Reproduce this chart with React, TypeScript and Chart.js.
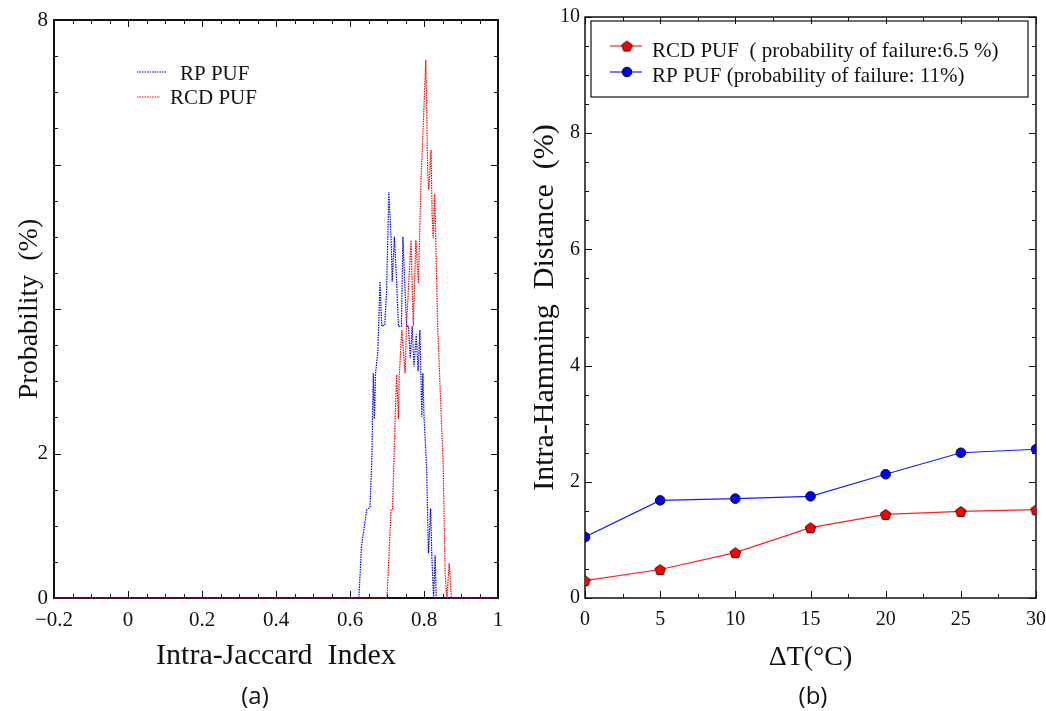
import React, { useEffect, useRef } from 'react';
import { Chart, registerables } from 'chart.js';
Chart.register(...registerables);

// ---------- Panel (a): Intra-Jaccard index distribution ----------
const rpJaccard = [-0.2, 0.624, 0.631, 0.645, 0.654, 0.659, 0.663, 0.666, 0.669, 0.675, 0.678, 0.681, 0.686, 0.694, 0.699, 0.705, 0.711, 0.714, 0.72, 0.726, 0.731, 0.739, 0.743, 0.753, 0.758, 0.763, 0.768, 0.773, 0.779, 0.784, 0.789, 0.794, 0.797, 0.8, 0.807, 0.812, 0.818, 0.821, 0.826, 0.83, 0.833, 1.0];
const rpProb = [0, 0, 0.71, 1.22, 1.26, 1.91, 3.11, 2.48, 3.11, 3.39, 3.85, 4.38, 3.76, 3.78, 4.26, 5.62, 5.0, 4.38, 5.0, 4.38, 3.76, 3.76, 5.0, 3.76, 3.76, 3.32, 3.76, 3.2, 3.65, 3.14, 3.71, 2.51, 3.11, 2.51, 1.81, 0.62, 1.24, 0.59, 0, 0.59, 0, 0];
const rcdJaccard = [-0.2, 0.7, 0.711, 0.715, 0.722, 0.726, 0.731, 0.733, 0.74, 0.749, 0.753, 0.765, 0.771, 0.778, 0.785, 0.792, 0.805, 0.81, 0.813, 0.819, 0.822, 0.825, 0.829, 0.837, 0.852, 0.857, 0.862, 0.868, 0.874, 1.0];
const rcdProb = [0, 0, 1.22, 1.23, 2.47, 3.09, 2.48, 3.06, 3.71, 3.11, 3.81, 4.95, 3.76, 4.95, 4.36, 5.79, 7.45, 5.88, 5.65, 6.2, 5.3, 4.98, 5.6, 3.76, 1.81, 0.35, 0, 0.48, 0, 0];
const probTickLabels = ['0', '2', '8'];

// ---------- Panel (b): Intra-Hamming distance vs temperature ----------
const deltaT = [0, 5, 10, 15, 20, 25, 30];
const rcdHamming = [0.3, 0.49, 0.78, 1.21, 1.44, 1.49, 1.52];
const rpHamming = [1.05, 1.68, 1.71, 1.75, 2.13, 2.5, 2.56];

const SERIF = '"Liberation Serif", "Times New Roman", serif';

const framePlugin = {
  id: 'frameTicks',
  beforeDatasetsDraw(chart: any, _args: any, opts: any) {
    const { ctx, chartArea: a } = chart;
    const x = chart.scales.x;
    const y = chart.scales.y;
    ctx.save();
    ctx.strokeStyle = '#111';
    ctx.lineWidth = 1;
    const nx = Math.round((x.max - x.min) / opts.xMinor);
    for (let i = 0; i <= nx; i++) {
      const v = x.min + i * opts.xMinor;
      const r = v / opts.xMajor;
      const major = Math.abs(r - Math.round(r)) < 1e-6;
      const len = major ? 7 : 4;
      const px = Math.round(x.getPixelForValue(v)) + 0.5;
      ctx.beginPath();
      ctx.moveTo(px, a.bottom);
      ctx.lineTo(px, a.bottom - len);
      ctx.moveTo(px, a.top);
      ctx.lineTo(px, a.top + len);
      ctx.stroke();
    }
    const ny = Math.round((y.max - y.min) / opts.yMinor);
    for (let i = 0; i <= ny; i++) {
      const v = y.min + i * opts.yMinor;
      const r = v / opts.yMajor;
      const major = Math.abs(r - Math.round(r)) < 1e-6;
      const len = major ? 7 : 4;
      const py = Math.round(y.getPixelForValue(v)) + 0.5;
      ctx.beginPath();
      ctx.moveTo(a.left, py);
      ctx.lineTo(a.left + len, py);
      ctx.moveTo(a.right, py);
      ctx.lineTo(a.right - len, py);
      ctx.stroke();
    }
    ctx.lineWidth = opts.frameWidth;
    ctx.strokeRect(a.left, a.top, a.right - a.left, a.bottom - a.top);
    ctx.restore();
  },
};

function makePentagon(size: number, fill: string, stroke: string) {
  const c = document.createElement('canvas');
  c.width = size;
  c.height = size;
  const g = c.getContext('2d')!;
  const r = size / 2 - 1;
  const cx = size / 2;
  const cy = size / 2 + 0.6;
  g.beginPath();
  for (let i = 0; i < 5; i++) {
    const ang = -Math.PI / 2 + (i * 2 * Math.PI) / 5;
    const px = cx + r * Math.cos(ang);
    const py = cy + r * Math.sin(ang);
    if (i === 0) g.moveTo(px, py);
    else g.lineTo(px, py);
  }
  g.closePath();
  g.fillStyle = fill;
  g.fill();
  g.strokeStyle = stroke;
  g.lineWidth = 1;
  g.stroke();
  return c;
}

const noSidePad = (s: any) => {
  s.paddingLeft = 0;
  s.paddingRight = 0;
};

export default function App() {
  const leftRef = useRef<HTMLCanvasElement>(null);
  const rightRef = useRef<HTMLCanvasElement>(null);

  useEffect(() => {
    const pentagon = makePentagon(13, '#ff0000', '#3a0000');

    const leftLegend = {
      id: 'leftLegend',
      afterDraw(chart: any) {
        const ctx = chart.ctx;
        ctx.save();
        ctx.lineWidth = 1.2;
        ctx.setLineDash([1.5, 1]);
        ctx.strokeStyle = '#0000ff';
        ctx.beginPath();
        ctx.moveTo(137, 72);
        ctx.lineTo(167, 72);
        ctx.stroke();
        ctx.strokeStyle = '#ff0000';
        ctx.beginPath();
        ctx.moveTo(137, 97);
        ctx.lineTo(160, 97);
        ctx.stroke();
        ctx.setLineDash([]);
        ctx.fillStyle = '#111';
        ctx.font = '21px ' + SERIF;
        ctx.textAlign = 'left';
        ctx.textBaseline = 'alphabetic';
        ctx.fillText('RP PUF', 180, 80);
        ctx.fillText('RCD PUF', 170, 104);
        ctx.restore();
      },
    };

    const left = new Chart(leftRef.current!, {
      type: 'line',
      data: {
        datasets: [
          {
            label: 'RCD PUF',
            data: rcdJaccard.map((v, i) => ({ x: v, y: rcdProb[i] })),
            borderColor: '#ff0000',
            borderWidth: 1.2,
            borderDash: [1.5, 1],
            pointRadius: 0,
            tension: 0,
            fill: false,
            clip: 2,
          },
          {
            label: 'RP PUF',
            data: rpJaccard.map((v, i) => ({ x: v, y: rpProb[i] })),
            borderColor: '#0000ff',
            borderWidth: 1.2,
            borderDash: [1.5, 1],
            pointRadius: 0,
            tension: 0,
            fill: false,
            clip: 2,
          },
        ],
      },
      options: {
        responsive: false,
        maintainAspectRatio: false,
        animation: false,
        events: [],
        layout: { padding: { top: 20, right: 22, left: 0, bottom: 0 } },
        plugins: {
          legend: { display: false },
          tooltip: { enabled: false },
          frameTicks: { xMinor: 0.05, xMajor: 0.2, yMinor: 0.5, yMajor: 2, frameWidth: 2 },
        } as any,
        scales: {
          x: {
            type: 'linear',
            min: -0.2,
            max: 1,
            border: { display: false },
            grid: { display: false, drawTicks: false },
            afterFit: (s: any) => {
              s.height = 82;
              noSidePad(s);
            },
            ticks: {
              stepSize: 0.2,
              padding: 10,
              color: '#111',
              font: { family: SERIF, size: 21 },
              maxRotation: 0,
              callback: (v: any) => {
                const n = Math.round(Number(v) * 10) / 10;
                return n < 0 ? '\u2212' + Math.abs(n) : String(n);
              },
            },
            title: {
              display: true,
              text: 'Intra-Jaccard  Index',
              color: '#111',
              font: { family: SERIF, size: 30 },
              padding: { top: 0, bottom: 6 },
            },
          },
          y: {
            type: 'linear',
            min: 0,
            max: 8,
            border: { display: false },
            grid: { display: false, drawTicks: false },
            afterFit: (s: any) => {
              s.width = 54;
            },
            ticks: {
              stepSize: 2,
              padding: 6,
              color: '#111',
              font: { family: SERIF, size: 21 },
              callback: (v: any) => {
                const s = String(Math.round(Number(v)));
                return probTickLabels.includes(s) ? s : '';
              },
            },
            title: {
              display: true,
              text: 'Probability  (%)',
              color: '#111',
              font: { family: SERIF, size: 28 },
              padding: { top: 13, bottom: 0 },
            },
          },
        },
      },
      plugins: [framePlugin, leftLegend],
    } as any);

    const rightLegend = {
      id: 'rightLegend',
      afterDraw(chart: any) {
        const ctx = chart.ctx;
        const ox = 520;
        ctx.save();
        ctx.strokeStyle = '#111';
        ctx.lineWidth = 1.2;
        ctx.strokeRect(591 - ox, 21, 437, 76);
        ctx.lineWidth = 1.2;
        ctx.strokeStyle = '#ff2020';
        ctx.beginPath();
        ctx.moveTo(610 - ox, 46);
        ctx.lineTo(642 - ox, 46);
        ctx.stroke();
        ctx.drawImage(pentagon, 627 - ox - 6.5, 46 - 6.5);
        ctx.strokeStyle = '#1a1aff';
        ctx.beginPath();
        ctx.moveTo(610 - ox, 72);
        ctx.lineTo(642 - ox, 72);
        ctx.stroke();
        ctx.beginPath();
        ctx.arc(627 - ox, 72, 4.8, 0, Math.PI * 2);
        ctx.fillStyle = '#0000ff';
        ctx.fill();
        ctx.strokeStyle = '#111';
        ctx.lineWidth = 1;
        ctx.stroke();
        ctx.fillStyle = '#111';
        ctx.font = '21px ' + SERIF;
        ctx.textAlign = 'left';
        ctx.textBaseline = 'alphabetic';
        ctx.fillText('RCD PUF  ( probability of failure:6.5 %)', 652 - ox, 57);
        ctx.fillText('RP PUF (probability of failure: 11%)', 652 - ox, 82);
        ctx.restore();
      },
    };

    const right = new Chart(rightRef.current!, {
      type: 'line',
      data: {
        datasets: [
          {
            label: 'RCD PUF ( probability of failure:6.5 %)',
            data: deltaT.map((t, i) => ({ x: t, y: rcdHamming[i] })),
            borderColor: '#ff2020',
            borderWidth: 1.2,
            pointStyle: pentagon,
            pointRadius: 6,
            tension: 0,
            fill: false,
            clip: 0,
          },
          {
            label: 'RP PUF (probability of failure: 11%)',
            data: deltaT.map((t, i) => ({ x: t, y: rpHamming[i] })),
            borderColor: '#1a1aff',
            borderWidth: 1.2,
            pointStyle: 'circle',
            pointRadius: 4.8,
            pointBackgroundColor: '#0000ff',
            pointBorderColor: '#111',
            pointBorderWidth: 1,
            tension: 0,
            fill: false,
            clip: 0,
          },
        ],
      },
      options: {
        responsive: false,
        maintainAspectRatio: false,
        animation: false,
        events: [],
        layout: { padding: { top: 16, right: 10, left: 0, bottom: 0 } },
        plugins: {
          legend: { display: false },
          tooltip: { enabled: false },
          frameTicks: { xMinor: 2.5, xMajor: 5, yMinor: 0.5, yMajor: 2, frameWidth: 1.5 },
        } as any,
        scales: {
          x: {
            type: 'linear',
            min: 0,
            max: 30,
            border: { display: false },
            grid: { display: false, drawTicks: false },
            afterFit: (s: any) => {
              s.height = 82;
              noSidePad(s);
            },
            ticks: {
              stepSize: 5,
              padding: 10,
              color: '#111',
              font: { family: SERIF, size: 20 },
              maxRotation: 0,
            },
            title: {
              display: true,
              text: '\u0394T(\u00B0C)',
              color: '#111',
              font: { family: SERIF, size: 28 },
              padding: { top: 0, bottom: 6 },
            },
          },
          y: {
            type: 'linear',
            min: 0,
            max: 10,
            border: { display: false },
            grid: { display: false, drawTicks: false },
            afterFit: (s: any) => {
              s.width = 65;
            },
            ticks: {
              stepSize: 2,
              padding: 5,
              color: '#111',
              font: { family: SERIF, size: 20 },
            },
            title: {
              display: true,
              text: 'Intra-Hamming  Distance  (%)',
              color: '#111',
              font: { family: SERIF, size: 30 },
              padding: { top: 7, bottom: 0 },
            },
          },
        },
      },
      plugins: [framePlugin, rightLegend],
    } as any);

    return () => {
      left.destroy();
      right.destroy();
    };
  }, []);

  const caption: React.CSSProperties = {
    position: 'absolute',
    top: 681,
    width: 60,
    textAlign: 'center',
    fontFamily: '"Open Sans", "Noto Sans", sans-serif',
    fontSize: 24,
    lineHeight: '28px',
    color: '#111',
  };

  return (
    <div style={{ position: 'absolute', left: 0, top: 0, width: 1046, height: 711, background: '#fff', overflow: 'hidden' }}>
      <canvas ref={leftRef} width={520} height={680} style={{ position: 'absolute', left: 0, top: 0, width: 520, height: 680 }} />
      <canvas ref={rightRef} width={526} height={680} style={{ position: 'absolute', left: 520, top: 0, width: 526, height: 680 }} />
      <div style={{ ...caption, left: 225 }}>(a)</div>
      <div style={{ ...caption, left: 783 }}>(b)</div>
    </div>
  );
}
